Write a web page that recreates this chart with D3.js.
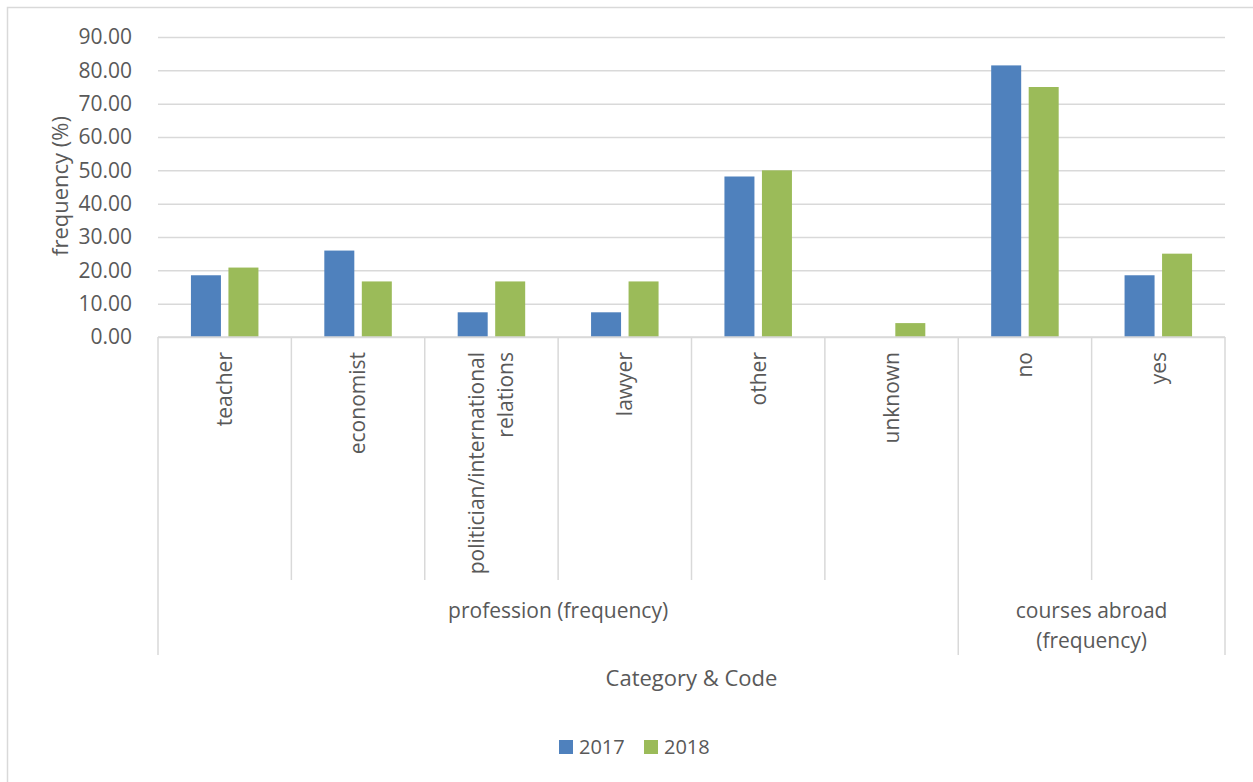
<!DOCTYPE html>
<html>
<head>
<meta charset="utf-8">
<script src="https://cdn.jsdelivr.net/npm/d3@7"></script>
<style>
  body { margin: 0; background: #fff; }
  text { font-family: "Open Sans", sans-serif; fill: #595959; }
</style>
</head>
<body>
<svg id="grafico"></svg>
<script>
// Dados do gráfico
var categorias = ['teacher', 'economist', 'politician/international relations', 'lawyer', 'other', 'unknown', 'no', 'yes'];
var grupos = [
    { nome: 'profession (frequency)', inicio: 0, fim: 5 },
    { nome: 'courses abroad (frequency)', inicio: 6, fim: 7 }
];
var series = ['2017', '2018'];
var valores2017 = [18.52, 25.93, 7.41, 7.41, 48.15, 0, 81.48, 18.52];
var valores2018 = [20.83, 16.67, 16.67, 16.67, 50.00, 4.17, 75.00, 25.00];
var ticksY = [0, 10, 20, 30, 40, 50, 60, 70, 80, 90];
var cores = ['#4F81BD', '#9BBB59'];

var largura = 1253, altura = 782;
var margem = { esquerda: 158, direita: 28, superior: 37, inferior: 445 };
var larguraPlotagem = largura - margem.esquerda - margem.direita;
var alturaPlotagem = altura - margem.superior - margem.inferior;

var svg = d3.select('#grafico')
    .attr('width', largura)
    .attr('height', altura);

// Borda do gráfico
svg.append('rect')
    .attr('x', 7.5).attr('y', 7.5)
    .attr('width', 1260).attr('height', 800)
    .attr('fill', 'none')
    .attr('stroke', '#D9D9D9')
    .attr('stroke-width', 1.5);

var plotagem = svg.append('g')
    .attr('transform', 'translate(' + margem.esquerda + ',' + margem.superior + ')');

// Escalas
var x0 = d3.scaleBand().domain(categorias).range([0, larguraPlotagem]);
var x1 = d3.scaleBand().domain(series)
    .range([x0.bandwidth() / 2 - 33.75, x0.bandwidth() / 2 + 33.75])
    .paddingInner(0.2);
var y = d3.scaleLinear().domain([0, 90]).range([alturaPlotagem, 0]);

// Linhas de grade
var grade = plotagem.append('g')
    .call(d3.axisRight(y).tickValues(ticksY).tickSize(larguraPlotagem).tickFormat(''));
grade.select('.domain').remove();
grade.selectAll('line').attr('stroke', '#D9D9D9').attr('stroke-width', 1.5);

// Eixo Y
var eixoY = plotagem.append('g')
    .attr('transform', 'translate(-23,0)')
    .call(d3.axisLeft(y).tickValues(ticksY).tickSize(0).tickFormat(d3.format('.2f')));
eixoY.select('.domain').remove();
eixoY.selectAll('text')
    .attr('fill', '#595959')
    .style('font-size', '21px')
    .style('font-family', '"Open Sans", sans-serif');

plotagem.append('text')
    .attr('transform', 'translate(-98,' + (alturaPlotagem / 2 - 1) + ') rotate(-90)')
    .attr('text-anchor', 'middle')
    .attr('dy', '0.35em')
    .style('font-size', '22px')
    .text('frequency (%)');

// Barras
var dados = categorias.map(function(c, i) {
    return { chave: c, valores: [valores2017[i], valores2018[i]] };
});
var colunas = plotagem.selectAll('.grupo')
    .data(dados)
    .enter().append('g')
    .attr('transform', d => 'translate(' + x0(d.chave) + ',0)');
colunas.selectAll('rect')
    .data(d => d.valores.map((v, j) => ({ serie: series[j], valor: v, cor: cores[j] })))
    .enter().append('rect')
    .filter(d => d.valor > 0)
    .attr('x', d => x1(d.serie))
    .attr('y', d => y(d.valor))
    .attr('width', x1.bandwidth())
    .attr('height', d => alturaPlotagem - y(d.valor))
    .attr('fill', d => d.cor);

// Eixo X em dois níveis
var eixoX = plotagem.append('g').attr('transform', 'translate(0,' + alturaPlotagem + ')');
var corEixo = '#D9D9D9';
eixoX.append('line')
    .attr('x1', 0).attr('x2', larguraPlotagem)
    .attr('stroke', corEixo).attr('stroke-width', 1.5);

var limites = categorias.map(c => x0(c)).concat([larguraPlotagem]);
var limitesGrupo = [];
grupos.forEach(g => { limitesGrupo.push(g.inicio); limitesGrupo.push(g.fim + 1); });
limites.forEach(function(px, i) {
    var longo = limitesGrupo.indexOf(i) >= 0;
    eixoX.append('line')
        .attr('x1', px).attr('x2', px)
        .attr('y1', 0).attr('y2', longo ? 318 : 243)
        .attr('stroke', corEixo).attr('stroke-width', 1.5);
});

// Rótulos das categorias (rotacionados)
categorias.forEach(function(c) {
    var linhas = c === 'politician/international relations' ? ['politician/international', 'relations'] : [c];
    var t = eixoX.append('text')
        .attr('transform', 'translate(' + (x0(c) + x0.bandwidth() / 2) + ',15) rotate(-90)')
        .attr('text-anchor', 'end')
        .style('font-size', '21px');
    linhas.forEach(function(l, k) {
        t.append('tspan')
            .attr('x', 0)
            .attr('y', (k - (linhas.length - 1) / 2) * 29)
            .attr('dy', '0.35em')
            .text(l);
    });
});

// Rótulos dos grupos
grupos.forEach(function(g) {
    var ini = x0(categorias[g.inicio]);
    var fim = x0(categorias[g.fim]) + x0.bandwidth();
    var centro = (ini + fim) / 2;
    var linhas = g.nome === 'courses abroad (frequency)' ? ['courses abroad', '(frequency)'] : [g.nome];
    var t = eixoX.append('text')
        .attr('text-anchor', 'middle')
        .style('font-size', '21px');
    linhas.forEach(function(l, k) {
        t.append('tspan')
            .attr('x', centro)
            .attr('y', 274 + k * 30)
            .attr('dy', '0.35em')
            .text(l);
    });
});

// Título do eixo X
svg.append('text')
    .attr('x', margem.esquerda + larguraPlotagem / 2)
    .attr('y', 678)
    .attr('dy', '0.35em')
    .attr('text-anchor', 'middle')
    .style('font-size', '22px')
    .text('Category & Code');

// Legenda
var legenda = svg.append('g');
var posLegenda = [559, 644];
series.forEach(function(s, i) {
    legenda.append('rect')
        .attr('x', posLegenda[i]).attr('y', 740)
        .attr('width', 14).attr('height', 14)
        .attr('fill', cores[i]);
    legenda.append('text')
        .attr('x', posLegenda[i] + 20).attr('y', 747)
        .attr('dy', '0.35em')
        .style('font-size', '20px')
        .text(s);
});
</script>
</body>
</html>
